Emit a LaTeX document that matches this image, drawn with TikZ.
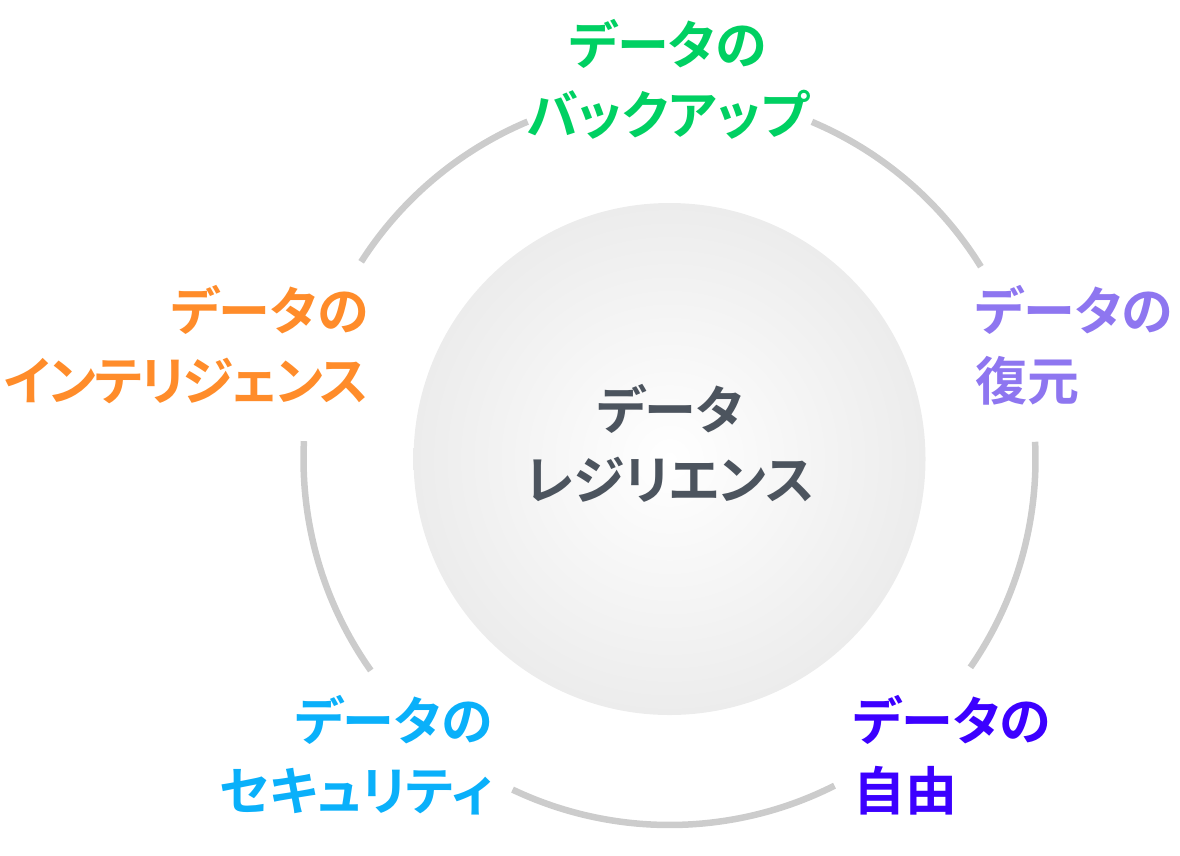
\documentclass[tikz,border=0pt]{standalone}
\usepackage{fontspec}
\usetikzlibrary{calc}
\newfontfamily\jp{Noto Sans CJK JP}[UprightFont={* Bold},RawFeature=+palt]
\definecolor{cgreen}{RGB}{0,208,98}
\definecolor{cpurple}{RGB}{142,118,240}
\definecolor{cviolet}{RGB}{60,0,255}
\definecolor{ccyan}{RGB}{10,176,250}
\definecolor{corange}{RGB}{255,140,42}
\definecolor{ctext}{RGB}{76,84,94}
\definecolor{cring}{RGB}{204,204,204}
\definecolor{cedge}{RGB}{236,236,236}
\begin{document}
\begin{tikzpicture}[x=1pt,y=-1pt,
  lbl/.style={font=\jp\fontsize{52}{70}\selectfont, inner sep=0pt},
  ringarc/.style={draw=cring, line width=6.5pt, line cap=butt}]
\useasboundingbox (0,0) rectangle (1180,855);
\coordinate (c) at (669.5,459);
% inner shaded circle
\shade[inner color=white, outer color=cedge] (c) circle[radius=256];
% ring arcs (angles measured with y downward -> negate)
\foreach \a/\b in {67.1/31.7, 2.7/-34.7, -63.2/-115.4, -144.7/-182.8, 147.4/112.8}{
  \draw[ringarc] ($(c)+({cos(\a)*366},{-sin(\a)*366})$) arc[start angle=-\a, end angle=-\b, radius=366];
}
% labels
\node[lbl, text=cgreen, align=center] (backup) at (668,79) {データの\\バックアップ};
\node[lbl, text=cpurple, align=left, anchor=west] (restore) at (975,345) {データの\\復元};
\node[lbl, text=cviolet, align=left, anchor=west] (freedom) at (853,755) {データの\\自由};
\node[lbl, text=ccyan, align=right, anchor=east] (security) at (493,755) {データの\\セキュリティ};
\node[lbl, text=corange, align=right, anchor=east] (intel) at (369,345) {データの\\{\addfontfeature{LetterSpace=-4}インテリジェンス}};
\node[lbl, text=ctext, align=center] (center) at (670,443) {データ\\レジリエンス};
\end{tikzpicture}
\end{document}
